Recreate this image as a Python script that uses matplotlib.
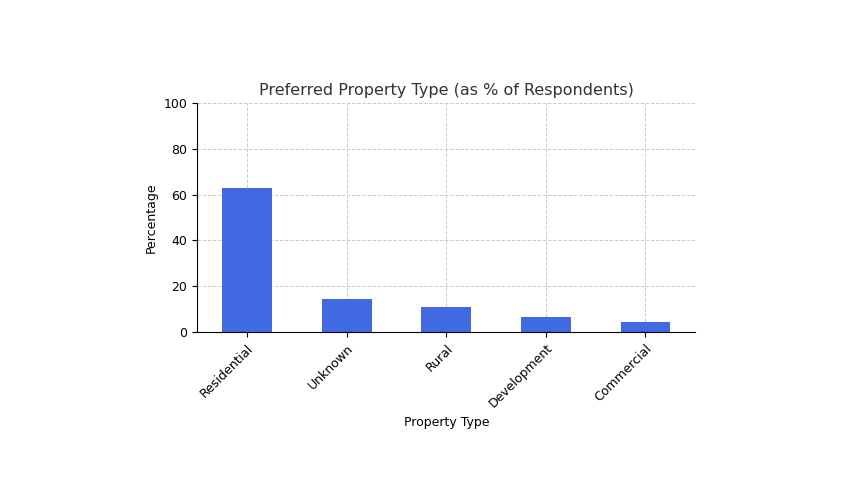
import matplotlib.pyplot as plt

categories = ["Residential", "Unknown", "Rural", "Development", "Commercial"]
percentages = [62.9, 14.5, 11.0, 6.5, 4.4]

plt.rcParams["font.size"] = 9
fig = plt.figure(figsize=(8.5, 5), dpi=100)
ax = fig.add_axes([0.232, 0.336, 0.586, 0.458])

ax.bar(range(len(categories)), percentages, width=0.5, color="royalblue", zorder=2)
ax.set_xticks(range(len(categories)))
ax.set_xticklabels(categories, rotation=45, ha="right", rotation_mode="anchor")
ax.set_ylim(0, 100)
ax.set_xlim(-0.5, len(categories) - 0.5)
ax.grid(True, linestyle="--", color="#cccccc", linewidth=0.7, zorder=0)
ax.spines["top"].set_visible(False)
ax.spines["right"].set_visible(False)
ax.set_title("Preferred Property Type (as % of Respondents)", fontsize=11.5, color="#333333")
ax.set_xlabel("Property Type")
ax.set_ylabel("Percentage")

fig.savefig("out.png", dpi=100)
